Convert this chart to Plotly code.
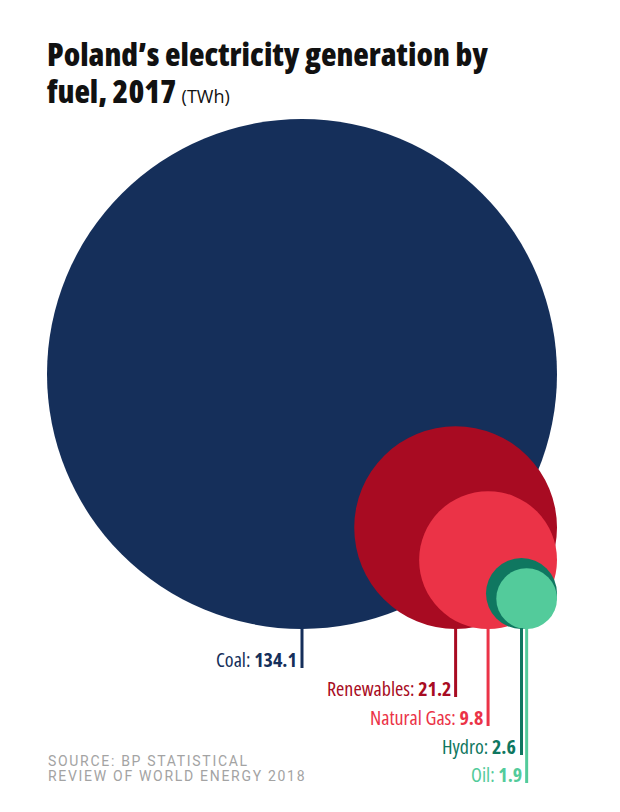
import plotly.graph_objects as go
import math

# ---- data ----
fuels = ["Coal", "Renewables", "Natural Gas", "Hydro", "Oil"]
values = [134.1, 21.2, 9.8, 2.6, 1.9]
colors = ["#152f5a", "#a80b22", "#eb3347", "#0f7760", "#53cb9b"]

title_lines = ["Poland’s electricity generation by", "fuel, 2017"]
title_unit = "(TWh)"
source_lines = ["SOURCE: BP STATISTICAL", "REVIEW OF WORLD ENERGY 2018"]

# ---- layout constants (page pixel space; body has 8px margin) ----
W, H = 604, 796
X0, Y0 = 8, 8
anchor_right = 557
anchor_bottom = 629
max_radius = 255
label_ends = [668, 697, 726, 755, 783]

FONT = "Open Sans"
COND = "font-stretch:condensed"

fig = go.Figure()
vmax = max(values)
shapes = []
annotations = []
for i, (f, v, c) in enumerate(zip(fuels, values, colors)):
    r = max_radius * math.sqrt(v / vmax)
    cx = anchor_right - r
    cy = anchor_bottom - r
    shapes.append(dict(type="circle", xref="x", yref="y",
                       x0=cx - r, x1=cx + r, y0=cy - r, y1=cy + r,
                       fillcolor=c, line=dict(width=0), layer="below"))
    shapes.append(dict(type="line", xref="x", yref="y",
                       x0=cx, x1=cx, y0=anchor_bottom - 1, y1=label_ends[i],
                       line=dict(color=c, width=3)))
    annotations.append(dict(x=cx - 3, y=label_ends[i] + 7, xref="x", yref="y",
                            xanchor="right", yanchor="bottom", showarrow=False,
                            text=f"<span style='{COND}'>{f}: <b>{v}</b></span>",
                            font=dict(family=FONT, size=20, color=c)))

title_y = [30, 67]
for i, t in enumerate(title_lines):
    txt = f"<span style='{COND}'>{t}</span>"
    if i == 1:
        txt = (f"<span style='{COND}'>{t} </span>"
               f"<span style='font-size:18px;font-weight:400'>{title_unit}</span>")
    annotations.append(dict(x=45, y=title_y[i], xref="x", yref="y", xanchor="left", yanchor="top",
                            showarrow=False, align="left", text=txt,
                            font=dict(family=FONT, size=32, color="#111111", weight=800)))

src_y = [751, 766]
for i, t in enumerate(source_lines):
    annotations.append(dict(x=46, y=src_y[i], xref="x", yref="y", xanchor="left", yanchor="top",
                            showarrow=False, align="left",
                            text=f"<span style='letter-spacing:1.7px'>{t}</span>",
                            font=dict(family="Roboto", size=14, color="#a3a3a3")))

# invisible trace to establish axes
fig.add_trace(go.Scatter(x=[X0, X0 + W], y=[Y0, Y0 + H], mode="markers",
                         marker=dict(opacity=0), hoverinfo="skip", showlegend=False))

fig.update_layout(
    width=W, height=H, margin=dict(l=0, r=0, t=0, b=0),
    paper_bgcolor="white", plot_bgcolor="white",
    xaxis=dict(range=[X0, X0 + W], visible=False, fixedrange=True),
    yaxis=dict(range=[Y0 + H, Y0], visible=False, fixedrange=True),
    shapes=shapes, annotations=annotations,
)
fig.write_html("out.html")
